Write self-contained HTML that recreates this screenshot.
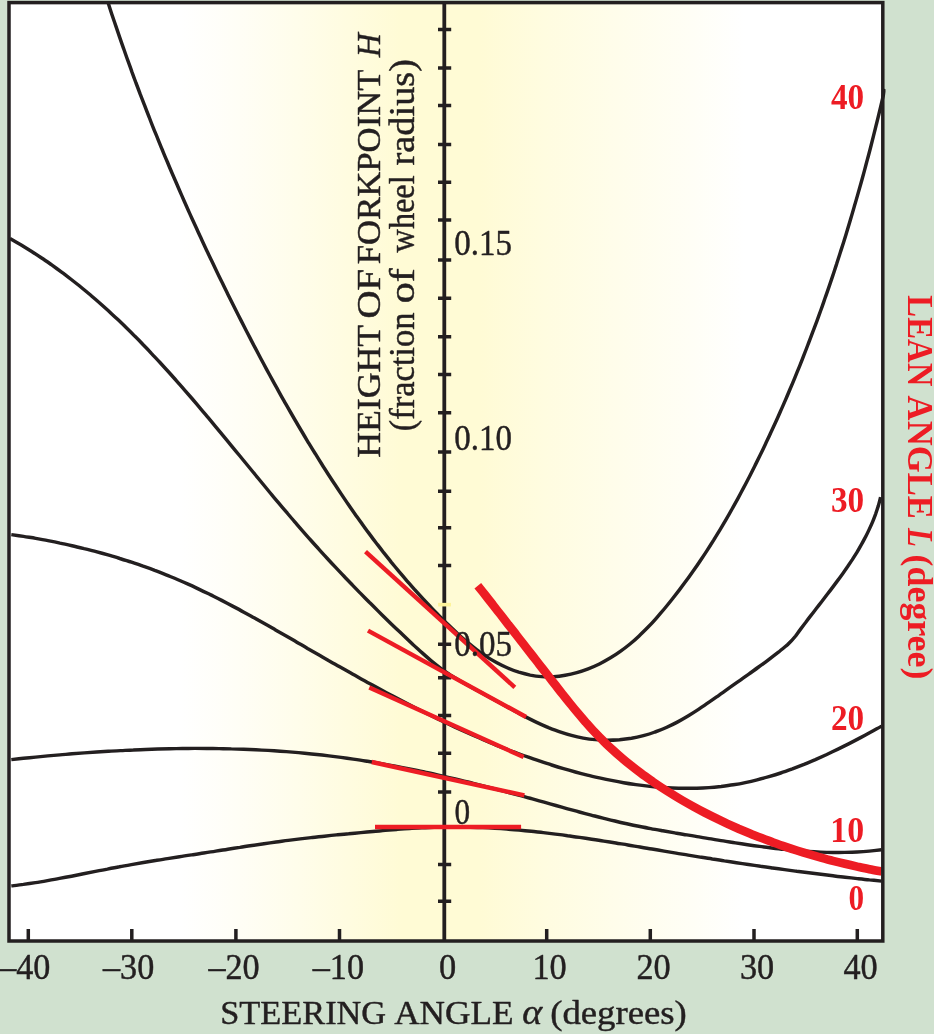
<!DOCTYPE html>
<html lang="en"><head><meta charset="utf-8"><title>Height of forkpoint vs steering angle</title>
<style>html,body{margin:0;padding:0;background:#d0e1cf}svg{display:block}text{font-family:"Liberation Serif","DejaVu Serif",serif;stroke-width:.45px;stroke-linejoin:round}</style></head><body>
<svg width="934" height="1034" viewBox="0 0 934 1034">
<defs><linearGradient id="g" gradientUnits="userSpaceOnUse" x1="9" y1="0" x2="883" y2="0">
<stop offset="0.0000" stop-color="#ffffff"/>
<stop offset="0.1957" stop-color="#ffffff"/>
<stop offset="0.2597" stop-color="#fffef6"/>
<stop offset="0.3284" stop-color="#fffdeb"/>
<stop offset="0.3879" stop-color="#fffce0"/>
<stop offset="0.4497" stop-color="#fffbd5"/>
<stop offset="0.5389" stop-color="#fffbd5"/>
<stop offset="0.6121" stop-color="#fffce0"/>
<stop offset="0.6968" stop-color="#fffdeb"/>
<stop offset="0.7826" stop-color="#fffef6"/>
<stop offset="0.8421" stop-color="#ffffff"/>
<stop offset="1.0000" stop-color="#ffffff"/>
</linearGradient>
<clipPath id="c"><rect x="9" y="2.5" width="876.5" height="938.5"/></clipPath></defs>
<rect width="934" height="1034" fill="#d0e1cf"/>
<rect x="9" y="2.5" width="873.8" height="938.5" fill="url(#g)"/>
<g fill="none" stroke="#231f20" stroke-width="3.45" clip-path="url(#c)">
<path d="M108.2,3.0C108.8,4.9 110.7,10.7 111.9,14.5C113.2,18.3 114.5,22.1 115.8,25.9C117.1,29.8 118.4,33.6 119.7,37.4C121.0,41.2 122.3,45.0 123.7,48.8C125.0,52.6 126.3,56.4 127.7,60.2C129.1,64.0 130.5,67.8 131.8,71.6C133.2,75.4 134.6,79.2 136.0,83.0C137.5,86.8 138.9,90.6 140.3,94.4C141.8,98.2 143.2,102.0 144.7,105.7C146.1,109.5 147.6,113.3 149.1,117.0C150.5,120.8 152.0,124.6 153.5,128.3C155.0,132.1 156.6,135.8 158.1,139.6C159.6,143.3 161.1,147.1 162.7,150.8C164.2,154.6 165.8,158.3 167.4,162.0C168.9,165.8 170.5,169.5 172.1,173.2C173.7,176.9 175.3,180.6 176.9,184.3C178.5,188.1 180.1,191.8 181.7,195.4C183.3,199.1 185.0,202.8 186.6,206.5C188.2,210.2 189.9,213.9 191.5,217.5C193.2,221.2 194.9,224.9 196.6,228.5C198.2,232.2 199.9,235.8 201.6,239.5C203.3,243.1 205.0,246.8 206.7,250.4C208.4,254.0 210.1,257.7 211.9,261.3C213.6,264.9 215.3,268.5 217.1,272.2C218.8,275.8 220.6,279.4 222.4,283.0C224.1,286.6 225.9,290.2 227.7,293.9C229.5,297.5 231.3,301.1 233.1,304.7C234.9,308.3 236.7,311.9 238.5,315.5C240.3,319.1 242.2,322.7 244.0,326.3C245.9,329.9 247.7,333.5 249.6,337.1C251.4,340.7 253.3,344.3 255.2,347.9C257.1,351.5 259.0,355.1 260.9,358.7C262.8,362.3 264.7,365.8 266.6,369.4C268.6,373.0 270.5,376.5 272.5,380.1C274.4,383.7 276.4,387.2 278.4,390.8C280.3,394.3 282.3,397.9 284.3,401.4C286.3,404.9 288.3,408.5 290.4,412.0C292.4,415.5 294.4,419.0 296.5,422.5C298.5,426.0 300.6,429.5 302.7,433.0C304.7,436.5 306.8,439.9 308.9,443.4C311.0,446.9 313.1,450.3 315.3,453.7C317.4,457.2 319.5,460.6 321.7,464.0C323.8,467.4 326.0,470.8 328.2,474.2C330.4,477.6 332.6,481.0 334.8,484.3C337.0,487.7 339.2,491.0 341.5,494.4C343.7,497.7 345.9,501.0 348.2,504.3C350.5,507.6 352.8,510.9 355.1,514.2C357.4,517.4 359.7,520.7 362.1,523.9C364.4,527.2 366.8,530.4 369.2,533.6C371.5,536.8 373.9,540.0 376.4,543.2C378.8,546.3 381.3,549.5 383.7,552.7C386.2,555.8 388.7,558.9 391.2,562.1C393.8,565.2 396.3,568.3 398.9,571.4C401.5,574.4 404.1,577.5 406.7,580.6C409.4,583.6 412.0,586.6 414.7,589.7C417.4,592.7 420.1,595.7 422.9,598.7C425.7,601.7 428.4,604.6 431.3,607.6C434.1,610.6 437.0,613.5 439.8,616.4C442.7,619.3 445.7,622.3 448.6,625.1C451.6,628.0 454.6,630.9 457.7,633.7C460.7,636.5 463.8,639.2 467.0,641.9C470.1,644.5 473.3,647.1 476.6,649.6C479.8,652.0 483.1,654.4 486.5,656.6C489.9,658.8 493.4,660.9 496.9,662.8C500.4,664.7 504.0,666.5 507.7,668.0C511.4,669.6 515.1,671.0 518.8,672.2C522.6,673.3 526.4,674.3 530.2,675.1C534.0,675.8 537.9,676.3 541.8,676.6C545.7,676.9 549.6,676.9 553.5,676.7C557.4,676.5 561.3,676.0 565.2,675.3C569.1,674.7 573.0,673.8 576.8,672.7C580.6,671.6 584.5,670.3 588.2,668.9C592.0,667.4 595.7,665.8 599.4,664.0C603.0,662.2 606.6,660.2 610.1,658.1C613.6,656.0 617.0,653.8 620.3,651.4C623.6,649.1 626.8,646.6 630.0,644.0C633.1,641.4 636.2,638.7 639.1,635.9C642.1,633.1 645.0,630.2 647.9,627.3C650.7,624.4 653.5,621.4 656.2,618.3C658.9,615.2 661.5,612.1 664.2,609.0C666.8,605.9 669.4,602.7 671.9,599.5C674.4,596.3 676.9,593.1 679.4,589.9C681.9,586.6 684.3,583.4 686.7,580.1C689.1,576.8 691.4,573.5 693.7,570.2C696.1,566.9 698.4,563.6 700.6,560.2C702.9,556.8 705.1,553.5 707.3,550.1C709.5,546.7 711.6,543.3 713.8,539.9C715.9,536.4 718.0,533.0 720.1,529.6C722.2,526.1 724.2,522.6 726.3,519.1C728.3,515.7 730.3,512.2 732.2,508.7C734.2,505.1 736.2,501.6 738.1,498.1C740.0,494.5 741.9,491.0 743.8,487.4C745.7,483.9 747.5,480.3 749.4,476.7C751.2,473.1 753.0,469.5 754.8,465.9C756.6,462.3 758.4,458.7 760.2,455.1C761.9,451.5 763.7,447.8 765.4,444.2C767.1,440.5 768.9,436.9 770.5,433.2C772.2,429.6 773.9,425.9 775.6,422.2C777.3,418.6 778.9,414.9 780.5,411.2C782.2,407.5 783.8,403.8 785.4,400.1C787.0,396.4 788.6,392.7 790.1,389.0C791.7,385.3 793.3,381.5 794.8,377.8C796.3,374.1 797.9,370.3 799.4,366.6C800.9,362.8 802.4,359.1 803.8,355.3C805.3,351.6 806.8,347.8 808.2,344.0C809.7,340.3 811.1,336.5 812.5,332.7C814.0,328.9 815.4,325.1 816.8,321.4C818.2,317.6 819.5,313.8 820.9,310.0C822.3,306.2 823.6,302.3 824.9,298.5C826.3,294.7 827.6,290.9 828.9,287.1C830.2,283.2 831.5,279.4 832.8,275.6C834.1,271.7 835.3,267.9 836.6,264.1C837.8,260.2 839.1,256.4 840.3,252.5C841.5,248.7 842.8,244.8 844.0,240.9C845.2,237.1 846.4,233.2 847.5,229.4C848.7,225.5 849.9,221.6 851.0,217.7C852.2,213.9 853.3,210.0 854.4,206.1C855.6,202.2 856.7,198.3 857.8,194.4C858.9,190.6 860.0,186.7 861.1,182.8C862.2,178.9 863.2,175.0 864.3,171.1C865.3,167.2 866.4,163.3 867.4,159.4C868.5,155.5 869.5,151.6 870.5,147.7C871.5,143.7 872.5,139.8 873.5,135.9C874.5,132.0 875.5,128.1 876.4,124.2C877.4,120.3 878.4,116.3 879.3,112.4C880.3,108.5 881.2,104.6 882.1,100.7C883.1,96.7 884.4,90.9 884.9,88.9"/>
<path d="M11.3,534.6C13.3,534.9 19.5,535.8 23.5,536.4C27.6,537.1 31.7,537.7 35.7,538.4C39.8,539.1 43.9,539.9 47.9,540.6C52.0,541.4 56.0,542.2 60.0,543.1C64.1,543.9 68.1,544.8 72.1,545.7C76.1,546.6 80.1,547.6 84.1,548.6C88.1,549.5 92.1,550.6 96.1,551.6C100.1,552.7 104.0,553.8 108.0,554.9C111.9,556.1 115.9,557.2 119.8,558.5C123.7,559.7 127.6,560.9 131.5,562.2C135.4,563.5 139.3,564.8 143.1,566.2C147.0,567.5 150.9,568.9 154.7,570.4C158.5,571.8 162.3,573.3 166.1,574.8C169.9,576.4 173.7,577.9 177.4,579.5C181.2,581.1 184.9,582.7 188.7,584.4C192.4,586.1 196.1,587.8 199.8,589.6C203.5,591.3 207.1,593.1 210.8,594.9C214.4,596.7 218.1,598.5 221.7,600.4C225.3,602.3 229.0,604.2 232.6,606.1C236.2,608.0 239.8,609.9 243.4,611.9C247.0,613.8 250.5,615.8 254.1,617.8C257.7,619.8 261.3,621.8 264.8,623.8C268.4,625.8 272.0,627.9 275.5,629.9C279.1,631.9 282.6,634.0 286.2,636.0C289.7,638.1 293.3,640.1 296.8,642.2C300.4,644.3 304.0,646.3 307.5,648.4C311.1,650.4 314.6,652.5 318.2,654.5C321.8,656.6 325.4,658.6 328.9,660.7C332.5,662.7 336.1,664.7 339.7,666.8C343.2,668.8 346.8,670.8 350.4,672.8C354.0,674.9 357.6,676.9 361.2,678.9C364.8,680.9 368.4,682.9 372.0,684.8C375.6,686.8 379.3,688.8 382.9,690.7C386.5,692.7 390.1,694.6 393.8,696.6C397.4,698.5 401.0,700.4 404.7,702.3C408.3,704.2 412.0,706.1 415.7,708.0C419.3,709.8 423.0,711.7 426.7,713.5C430.4,715.3 434.0,717.2 437.7,718.9C441.4,720.7 445.1,722.5 448.9,724.3C452.6,726.0 456.3,727.7 460.0,729.4C463.8,731.1 467.5,732.8 471.3,734.5C475.0,736.1 478.8,737.8 482.6,739.4C486.3,741.0 490.1,742.6 493.9,744.1C497.7,745.7 501.5,747.2 505.3,748.7C509.1,750.2 513.0,751.6 516.8,753.0C520.7,754.5 524.5,755.9 528.4,757.2C532.2,758.6 536.1,759.9 540.0,761.2C543.9,762.5 547.8,763.8 551.7,765.0C555.7,766.3 559.6,767.5 563.5,768.6C567.5,769.8 571.4,770.9 575.4,772.0C579.4,773.0 583.4,774.1 587.4,775.1C591.4,776.1 595.4,777.0 599.4,777.9C603.4,778.8 607.5,779.7 611.5,780.4C615.5,781.2 619.6,782.0 623.6,782.7C627.7,783.4 631.7,784.0 635.8,784.6C639.9,785.2 643.9,785.7 648.0,786.1C652.1,786.6 656.1,787.0 660.2,787.3C664.3,787.6 668.4,787.9 672.4,788.0C676.5,788.2 680.6,788.3 684.6,788.3C688.7,788.4 692.8,788.3 696.8,788.2C700.9,788.1 704.9,787.9 709.0,787.6C713.0,787.3 717.1,786.9 721.1,786.5C725.1,786.0 729.1,785.5 733.2,784.8C737.2,784.2 741.2,783.5 745.2,782.6C749.1,781.8 753.1,780.9 757.1,779.9C761.1,778.9 765.0,777.8 768.9,776.7C772.9,775.5 776.8,774.3 780.7,773.0C784.6,771.7 788.5,770.3 792.4,768.9C796.3,767.4 800.1,765.9 804.0,764.4C807.8,762.8 811.6,761.2 815.4,759.6C819.2,757.9 823.0,756.2 826.8,754.5C830.5,752.7 834.3,750.9 838.0,749.1C841.7,747.3 845.4,745.4 849.1,743.6C852.8,741.7 856.5,739.8 860.1,737.9C863.7,735.9 867.3,734.0 870.9,732.0C874.5,730.1 879.8,727.1 881.6,726.2"/>
<path d="M11.3,759.6C13.3,759.4 19.4,758.7 23.4,758.3C27.5,757.9 31.5,757.5 35.6,757.1C39.6,756.7 43.7,756.3 47.8,755.9C51.8,755.6 55.9,755.2 59.9,754.9C64.0,754.5 68.1,754.2 72.1,753.8C76.2,753.5 80.3,753.2 84.3,752.9C88.4,752.6 92.5,752.3 96.6,752.0C100.6,751.8 104.7,751.5 108.8,751.3C112.9,751.0 117.0,750.8 121.0,750.6C125.1,750.4 129.2,750.1 133.3,750.0C137.4,749.8 141.5,749.6 145.5,749.5C149.6,749.3 153.7,749.2 157.8,749.0C161.9,748.9 166.0,748.8 170.0,748.7C174.1,748.6 178.2,748.6 182.3,748.5C186.4,748.5 190.5,748.4 194.6,748.4C198.6,748.4 202.7,748.4 206.8,748.4C210.9,748.5 215.0,748.5 219.1,748.6C223.1,748.7 227.2,748.7 231.3,748.9C235.4,749.0 239.5,749.1 243.6,749.2C247.6,749.4 251.7,749.6 255.8,749.8C259.9,750.0 263.9,750.2 268.0,750.4C272.1,750.7 276.1,750.9 280.2,751.2C284.3,751.5 288.3,751.8 292.4,752.1C296.5,752.5 300.5,752.8 304.6,753.2C308.7,753.6 312.7,754.0 316.8,754.5C320.8,754.9 324.9,755.4 328.9,755.9C333.0,756.4 337.0,756.9 341.0,757.4C345.1,758.0 349.1,758.5 353.2,759.1C357.2,759.7 361.2,760.3 365.3,761.0C369.3,761.6 373.3,762.3 377.3,763.0C381.4,763.7 385.4,764.4 389.4,765.1C393.4,765.9 397.4,766.6 401.4,767.4C405.4,768.2 409.4,769.0 413.4,769.8C417.4,770.6 421.4,771.4 425.4,772.3C429.4,773.1 433.4,774.0 437.4,774.9C441.4,775.8 445.4,776.7 449.3,777.6C453.3,778.5 457.3,779.5 461.3,780.4C465.2,781.4 469.2,782.3 473.2,783.3C477.1,784.3 481.1,785.3 485.1,786.3C489.0,787.3 493.0,788.3 496.9,789.4C500.9,790.4 504.8,791.5 508.8,792.5C512.7,793.6 516.6,794.6 520.6,795.7C524.5,796.8 528.4,797.9 532.4,798.9C536.3,800.0 540.2,801.1 544.1,802.2C548.0,803.3 552.0,804.4 555.9,805.5C559.8,806.6 563.7,807.7 567.6,808.8C571.6,809.9 575.5,810.9 579.4,812.0C583.3,813.0 587.3,814.1 591.2,815.1C595.1,816.1 599.1,817.2 603.0,818.1C607.0,819.1 610.9,820.1 614.9,821.0C618.8,822.0 622.8,822.9 626.8,823.7C630.7,824.6 634.7,825.5 638.7,826.3C642.7,827.1 646.7,827.9 650.7,828.6C654.7,829.4 658.8,830.1 662.8,830.8C666.8,831.5 670.8,832.2 674.8,832.9C678.9,833.6 682.9,834.3 686.9,834.9C691.0,835.6 695.0,836.3 699.1,836.9C703.1,837.6 707.1,838.3 711.2,838.9C715.2,839.6 719.2,840.3 723.3,840.9C727.3,841.6 731.3,842.2 735.4,842.9C739.4,843.5 743.5,844.1 747.5,844.7C751.5,845.3 755.6,845.9 759.6,846.4C763.7,847.0 767.7,847.5 771.8,848.0C775.8,848.5 779.8,849.0 783.9,849.4C787.9,849.8 792.0,850.2 796.1,850.6C800.1,850.9 804.2,851.2 808.2,851.5C812.3,851.8 816.3,852.0 820.4,852.1C824.5,852.3 828.5,852.4 832.6,852.4C836.7,852.5 840.7,852.5 844.8,852.4C848.9,852.3 853.0,852.2 857.1,852.0C861.1,851.8 865.2,851.5 869.3,851.1C873.4,850.7 879.6,850.0 881.6,849.8"/>
<path d="M11.3,885.9C13.3,885.7 19.4,884.9 23.4,884.4C27.4,883.8 31.5,883.2 35.5,882.6C39.5,882.0 43.5,881.3 47.5,880.6C51.5,879.9 55.5,879.2 59.5,878.4C63.5,877.7 67.5,876.9 71.5,876.2C75.5,875.4 79.5,874.6 83.5,873.8C87.4,873.0 91.4,872.2 95.4,871.4C99.4,870.6 103.4,869.8 107.4,869.1C111.4,868.3 115.4,867.5 119.4,866.8C123.4,866.0 127.4,865.3 131.4,864.6C135.4,863.9 139.4,863.2 143.4,862.5C147.4,861.8 151.4,861.2 155.4,860.5C159.4,859.9 163.5,859.3 167.5,858.6C171.5,858.0 175.5,857.4 179.5,856.8C183.6,856.1 187.6,855.5 191.6,854.9C195.6,854.3 199.7,853.7 203.7,853.0C207.7,852.4 211.7,851.8 215.8,851.1C219.8,850.5 223.8,849.9 227.8,849.2C231.8,848.6 235.9,848.0 239.9,847.4C243.9,846.7 247.9,846.1 251.9,845.5C256.0,844.9 260.0,844.3 264.0,843.7C268.0,843.1 272.1,842.6 276.1,842.0C280.1,841.5 284.1,840.9 288.2,840.4C292.2,839.9 296.2,839.4 300.2,838.9C304.3,838.4 308.3,838.0 312.3,837.5C316.4,837.1 320.4,836.6 324.4,836.2C328.5,835.8 332.5,835.4 336.5,834.9C340.6,834.5 344.6,834.1 348.7,833.8C352.7,833.4 356.8,833.0 360.8,832.6C364.9,832.2 368.9,831.9 373.0,831.5C377.0,831.1 381.1,830.8 385.2,830.4C389.2,830.1 393.3,829.7 397.4,829.4C401.4,829.1 405.5,828.8 409.6,828.6C413.6,828.3 417.7,828.1 421.8,827.9C425.9,827.6 429.9,827.5 434.0,827.3C438.1,827.2 442.1,827.1 446.2,827.0C450.2,827.0 454.3,827.0 458.4,827.0C462.4,827.0 466.5,827.1 470.5,827.2C474.6,827.3 478.6,827.4 482.7,827.6C486.7,827.8 490.8,828.0 494.8,828.2C498.9,828.5 502.9,828.8 507.0,829.1C511.0,829.4 515.1,829.7 519.1,830.1C523.1,830.5 527.2,830.9 531.2,831.3C535.3,831.7 539.3,832.2 543.3,832.6C547.4,833.1 551.4,833.6 555.4,834.1C559.5,834.6 563.5,835.1 567.5,835.7C571.6,836.2 575.6,836.8 579.6,837.4C583.6,838.0 587.7,838.6 591.7,839.2C595.7,839.8 599.7,840.4 603.8,841.1C607.8,841.7 611.8,842.4 615.8,843.0C619.9,843.7 623.9,844.3 627.9,845.0C631.9,845.7 635.9,846.3 640.0,847.0C644.0,847.7 648.0,848.4 652.0,849.0C656.0,849.7 660.1,850.4 664.1,851.1C668.1,851.8 672.1,852.4 676.1,853.1C680.1,853.8 684.2,854.4 688.2,855.1C692.2,855.8 696.2,856.4 700.2,857.1C704.2,857.7 708.3,858.3 712.3,859.0C716.3,859.6 720.3,860.2 724.3,860.9C728.3,861.5 732.4,862.1 736.4,862.7C740.4,863.3 744.4,863.9 748.4,864.5C752.4,865.1 756.5,865.7 760.5,866.3C764.5,866.8 768.5,867.4 772.6,868.0C776.6,868.5 780.6,869.1 784.6,869.6C788.7,870.2 792.7,870.7 796.7,871.3C800.7,871.8 804.8,872.3 808.8,872.8C812.8,873.3 816.9,873.8 820.9,874.3C824.9,874.8 829.0,875.3 833.0,875.8C837.1,876.3 841.1,876.8 845.1,877.2C849.2,877.7 853.2,878.1 857.3,878.6C861.3,879.0 865.4,879.4 869.4,879.9C873.5,880.3 879.6,880.9 881.6,881.1"/>
<path stroke-linejoin="round" d="M10.0,238.5C11.8,239.5 17.2,242.6 20.8,244.7C24.3,246.9 27.8,249.0 31.3,251.2C34.7,253.4 38.2,255.7 41.6,258.0C45.0,260.2 48.4,262.6 51.7,264.9C55.0,267.3 58.3,269.7 61.6,272.1C64.9,274.5 68.1,277.0 71.3,279.5C74.5,282.0 77.7,284.5 80.8,287.0C84.0,289.6 87.1,292.2 90.2,294.8C93.3,297.4 96.3,300.1 99.4,302.7C102.4,305.4 105.4,308.1 108.4,310.8C111.4,313.6 114.4,316.3 117.3,319.1C120.3,321.9 123.2,324.7 126.1,327.5C129.0,330.3 131.9,333.2 134.7,336.1C137.6,338.9 140.4,341.8 143.2,344.8C146.1,347.7 148.9,350.6 151.6,353.6C154.4,356.5 157.2,359.5 160.0,362.5C162.7,365.5 165.4,368.5 168.2,371.5C170.9,374.5 173.6,377.5 176.3,380.6C179.0,383.6 181.7,386.7 184.4,389.8C187.0,392.8 189.7,395.9 192.4,399.0C195.0,402.1 197.7,405.2 200.3,408.3C202.9,411.5 205.6,414.6 208.2,417.7C210.8,420.8 213.4,424.0 216.0,427.1C218.7,430.3 221.3,433.4 223.9,436.6C226.5,439.7 229.1,442.9 231.7,446.1C234.3,449.2 236.9,452.4 239.5,455.5C242.1,458.7 244.7,461.9 247.3,465.0C249.9,468.2 252.5,471.4 255.1,474.5C257.7,477.7 260.3,480.8 262.9,484.0C265.5,487.2 268.1,490.3 270.7,493.5C273.3,496.6 276.0,499.7 278.6,502.9C281.2,506.0 283.9,509.1 286.5,512.2C289.2,515.4 291.8,518.5 294.5,521.6C297.2,524.7 299.8,527.8 302.5,530.8C305.2,533.9 307.9,537.0 310.6,540.0C313.3,543.1 316.1,546.1 318.8,549.1C321.5,552.2 324.3,555.2 327.1,558.2C329.8,561.2 332.6,564.2 335.4,567.1C338.2,570.1 341.0,573.1 343.8,576.0C346.6,579.0 349.4,581.9 352.2,584.8C355.1,587.8 357.9,590.7 360.8,593.6C363.6,596.5 366.5,599.4 369.3,602.3C372.2,605.1 375.1,608.0 378.0,610.9C380.9,613.7 383.8,616.6 386.7,619.4C389.6,622.3 392.5,625.1 395.5,627.9C398.4,630.7 401.4,633.5 404.3,636.3C407.3,639.1 410.2,641.9 413.2,644.7C416.2,647.4 419.1,650.2 422.2,652.9C425.2,655.6 428.2,658.3 431.3,660.8C434.4,663.4 437.6,665.9 440.8,668.3C444.1,670.7 447.4,673.0 450.7,675.2C454.1,677.3 457.6,679.4 461.1,681.4C464.6,683.5 468.1,685.4 471.7,687.4C475.2,689.3 478.8,691.2 482.4,693.2C486.0,695.2 489.7,697.2 493.3,699.2C496.9,701.2 500.5,703.3 504.2,705.3C507.8,707.3 511.4,709.3 515.1,711.3C518.7,713.3 522.4,715.2 526.1,717.1C529.8,719.0 533.5,720.9 537.2,722.6C541.0,724.3 544.7,726.0 548.5,727.6C552.3,729.1 556.1,730.6 559.9,731.9C563.8,733.2 567.6,734.4 571.5,735.4C575.4,736.5 579.3,737.4 583.3,738.1C587.3,738.8 591.3,739.3 595.3,739.6C599.3,740.0 603.4,740.2 607.4,740.2C611.4,740.2 615.5,740.0 619.5,739.7C623.5,739.3 627.5,738.8 631.5,738.2C635.5,737.5 639.5,736.6 643.4,735.6C647.3,734.6 651.2,733.4 655.0,732.0C658.8,730.7 662.6,729.2 666.3,727.5C670.0,725.8 673.7,724.0 677.3,722.1C680.9,720.2 684.5,718.1 688.0,716.0C691.5,713.9 695.0,711.7 698.5,709.4C701.9,707.1 705.3,704.8 708.7,702.4C712.2,700.1 715.5,697.7 718.9,695.3C722.3,692.9 725.6,690.5 728.9,688.1C732.3,685.8 735.6,683.4 738.9,681.1C742.2,678.7 745.5,676.4 748.8,674.1C752.1,671.7 755.4,669.4 758.6,667.0C761.9,664.7 765.2,662.3 768.4,659.8C771.6,657.4 774.9,654.9 778.1,652.4C781.3,649.9 786.0,645.9 787.6,644.6Q791.7,640.9 795.6,636.0C796.4,634.9 798.9,631.4 800.6,629.1C802.3,626.8 804.0,624.5 805.8,622.2C807.5,619.9 809.2,617.7 811.0,615.4C812.8,613.1 814.5,610.8 816.3,608.5C818.1,606.2 819.8,604.0 821.6,601.7C823.4,599.4 825.2,597.1 826.9,594.8C828.7,592.5 830.5,590.2 832.2,587.9C834.0,585.5 835.7,583.2 837.4,580.9C839.1,578.6 840.8,576.2 842.5,573.9C844.2,571.5 845.9,569.1 847.5,566.8C849.1,564.4 850.7,562.0 852.3,559.6C853.9,557.1 855.4,554.7 856.9,552.3C858.4,549.8 859.8,547.3 861.2,544.8C862.7,542.4 864.0,539.8 865.3,537.3C866.7,534.8 867.9,532.2 869.1,529.6C870.3,527.0 871.5,524.4 872.6,521.8C873.7,519.1 874.7,516.5 875.7,513.8C876.6,511.1 877.5,508.3 878.4,505.6C879.2,502.8 880.3,498.6 880.6,497.2"/>
</g>
<g stroke="#231f20" stroke-width="3.8" fill="none">
<path d="M444.3,3V940"/>
</g>
<g stroke="#231f20" stroke-width="3.5" fill="none">
<path d="M438,29.4H451.2M438,68.1H451.2M438,105.6H451.2M438,144.6H451.2M438,182.3H451.2M438,220.0H451.2M438,260.0H451.2M438,298.3H451.2M438,336.7H451.2M438,374.5H451.2M438,412.7H451.2M438,451.9H451.2M438,491.2H451.2M438,527.7H451.2M438,565.4H451.2M438,644.2H451.2M438,677.7H451.2M438,715.4H451.2M438,753.3H451.2M438,791.9H451.2M438,827.0H451.2M438,864.6H451.2M438,901.2H451.2"/>
<path d="M28.3,929V940M131.8,929V940M235.9,929V940M339.5,929V940M546.7,929V940M650.3,929V940M754.0,929V940M857.3,929V940"/>
</g>
<path d="M438.1,604.65H451" stroke="#fdf39b" stroke-width="3.6"/>
<g stroke="#ed1c24" stroke-width="4.4" fill="none">
<path d="M365.5,551.6L514.8,687.3"/>
<path d="M368.0,630.6L526.1,717.0"/>
<path d="M369.3,687.4L523.6,757.1"/>
<path d="M371.8,762.0L524.4,795.3"/>
<path d="M375.0,827.0L521.1,827.0"/>
</g>
<path d="M477.8,585.7C479.1,587.3 483.0,592.2 485.6,595.5C488.1,598.8 490.7,602.0 493.3,605.3C495.8,608.6 498.4,611.9 501.0,615.1C503.5,618.4 506.1,621.7 508.6,625.0C511.2,628.2 513.7,631.5 516.3,634.8C518.8,638.1 521.4,641.4 523.9,644.6C526.5,647.9 529.0,651.2 531.6,654.5C534.1,657.8 536.7,661.0 539.2,664.3C541.8,667.6 544.3,670.9 546.9,674.2C549.4,677.5 552.0,680.7 554.6,684.0C557.1,687.3 559.7,690.6 562.3,693.9C564.9,697.1 567.5,700.4 570.1,703.6C572.7,706.9 575.4,710.1 578.1,713.3C580.7,716.5 583.5,719.6 586.2,722.7C589.0,725.9 591.7,729.0 594.6,732.0C597.4,735.0 600.3,738.0 603.3,740.9C606.2,743.9 609.2,746.7 612.3,749.5C615.3,752.3 618.4,755.1 621.6,757.8C624.7,760.5 627.9,763.1 631.2,765.7C634.4,768.3 637.7,770.8 641.1,773.3C644.4,775.8 647.8,778.2 651.2,780.6C654.6,782.9 658.1,785.3 661.5,787.5C665.0,789.8 668.5,792.0 672.1,794.2C675.6,796.4 679.2,798.5 682.8,800.6C686.4,802.7 690.0,804.7 693.7,806.7C697.3,808.7 701.0,810.7 704.7,812.6C708.4,814.5 712.1,816.4 715.8,818.2C719.6,820.0 723.3,821.8 727.1,823.6C730.9,825.3 734.7,827.0 738.5,828.7C742.3,830.3 746.1,831.9 750.0,833.5C753.8,835.1 757.7,836.6 761.6,838.1C765.5,839.6 769.4,841.1 773.3,842.5C777.2,843.9 781.1,845.3 785.1,846.6C789.0,847.9 793.0,849.2 796.9,850.5C800.9,851.7 804.9,853.0 808.9,854.2C812.9,855.3 816.9,856.5 820.9,857.6C824.9,858.7 828.9,859.8 832.9,860.8C837.0,861.9 841.0,862.9 845.0,863.8C849.1,864.8 853.1,865.7 857.2,866.6C861.3,867.5 865.3,868.4 869.4,869.2C873.5,870.1 879.6,871.2 881.6,871.6" fill="none" stroke="#ed1c24" stroke-width="8.6" clip-path="url(#c)"/>
<rect x="9" y="2.6" width="873.8" height="938.4" fill="none" stroke="#231f20" stroke-width="3.5"/>
<g fill="#231f20" stroke="#231f20">
<text x="454.3" y="254.8" font-size="35" text-anchor="start" textLength="57.6" lengthAdjust="spacingAndGlyphs">0.15</text>
<text x="454.3" y="450.3" font-size="35" text-anchor="start" textLength="57.6" lengthAdjust="spacingAndGlyphs">0.10</text>
<text x="454.3" y="655.8" font-size="35" text-anchor="start" textLength="57.6" lengthAdjust="spacingAndGlyphs">0.05</text>
<text x="454.5" y="824.3" font-size="35" text-anchor="start" textLength="15.6" lengthAdjust="spacingAndGlyphs">0</text>
<text x="-0.8" y="978.9" font-size="35" text-anchor="start" textLength="51.2" lengthAdjust="spacingAndGlyphs">–40</text>
<text x="103.0" y="978.9" font-size="35" text-anchor="start" textLength="51.2" lengthAdjust="spacingAndGlyphs">–30</text>
<text x="208.4" y="978.9" font-size="35" text-anchor="start" textLength="51.2" lengthAdjust="spacingAndGlyphs">–20</text>
<text x="312.8" y="978.9" font-size="35" text-anchor="start" textLength="51.2" lengthAdjust="spacingAndGlyphs">–10</text>
<text x="439.0" y="978.9" font-size="35" text-anchor="start" textLength="17.2" lengthAdjust="spacingAndGlyphs">0</text>
<text x="532.4" y="978.9" font-size="35" text-anchor="start" textLength="34.2" lengthAdjust="spacingAndGlyphs">10</text>
<text x="636.4" y="978.9" font-size="35" text-anchor="start" textLength="34.2" lengthAdjust="spacingAndGlyphs">20</text>
<text x="740.0" y="978.9" font-size="35" text-anchor="start" textLength="34.2" lengthAdjust="spacingAndGlyphs">30</text>
<text x="843.4" y="978.9" font-size="35" text-anchor="start" textLength="34.2" lengthAdjust="spacingAndGlyphs">40</text>
<text x="220.2" y="1023.5" font-size="34.5" textLength="166.0" lengthAdjust="spacingAndGlyphs">STEERING</text>
<text x="394.2" y="1023.5" font-size="34.5" textLength="119.3" lengthAdjust="spacingAndGlyphs">ANGLE</text>
<text x="522.2" y="1023.5" font-size="35" font-style="italic" textLength="20.0" lengthAdjust="spacingAndGlyphs">α</text>
<text x="550.2" y="1023.5" font-size="34.5" textLength="136.6" lengthAdjust="spacingAndGlyphs">(degrees)</text>
<text transform="translate(379.7,457.8) rotate(-90)" font-size="34" textLength="133.0" lengthAdjust="spacingAndGlyphs">HEIGHT</text>
<text transform="translate(379.7,318.6) rotate(-90)" font-size="34" textLength="49.6" lengthAdjust="spacingAndGlyphs">OF</text>
<text transform="translate(379.7,264.3) rotate(-90)" font-size="34" textLength="194.8" lengthAdjust="spacingAndGlyphs">FORKPOINT</text>
<text transform="translate(379.7,57.2) rotate(-90)" font-size="34" font-style="italic" textLength="24.0" lengthAdjust="spacingAndGlyphs">H</text>
<text transform="translate(413.7,431.2) rotate(-90)" font-size="35" textLength="118.6" lengthAdjust="spacingAndGlyphs">(fraction</text>
<text transform="translate(413.7,303.2) rotate(-90)" font-size="35" textLength="35.0" lengthAdjust="spacingAndGlyphs">of</text>
<text transform="translate(413.7,252.4) rotate(-90)" font-size="35" textLength="77.0" lengthAdjust="spacingAndGlyphs">wheel</text>
<text transform="translate(413.7,165.4) rotate(-90)" font-size="35" textLength="106.4" lengthAdjust="spacingAndGlyphs">radius)</text>
</g>
<g fill="#ed1c24" font-weight="bold">
<text x="864.1" y="108.9" font-size="35" text-anchor="end" textLength="33.2" lengthAdjust="spacingAndGlyphs">40</text>
<text x="864.1" y="512.2" font-size="35" text-anchor="end" textLength="33.2" lengthAdjust="spacingAndGlyphs">30</text>
<text x="864.1" y="730.3" font-size="35" text-anchor="end" textLength="33.2" lengthAdjust="spacingAndGlyphs">20</text>
<text x="864.1" y="841.9" font-size="35" text-anchor="end" textLength="33.8" lengthAdjust="spacingAndGlyphs">10</text>
<text x="864.1" y="910.0" font-size="35" text-anchor="end" textLength="15.6" lengthAdjust="spacingAndGlyphs">0</text>
<text transform="translate(908.3,295.3) rotate(90)" font-size="35" textLength="91.0" lengthAdjust="spacingAndGlyphs">LEAN</text>
<text transform="translate(908.3,395.6) rotate(90)" font-size="35" textLength="123.4" lengthAdjust="spacingAndGlyphs">ANGLE</text>
<text transform="translate(908.3,528.0) rotate(90)" font-size="35" font-style="italic" textLength="19.0" lengthAdjust="spacingAndGlyphs">L</text>
<text transform="translate(908.3,554.6) rotate(90)" font-size="35" textLength="124.8" lengthAdjust="spacingAndGlyphs">(degree)</text>
</g>
</svg></body></html>
